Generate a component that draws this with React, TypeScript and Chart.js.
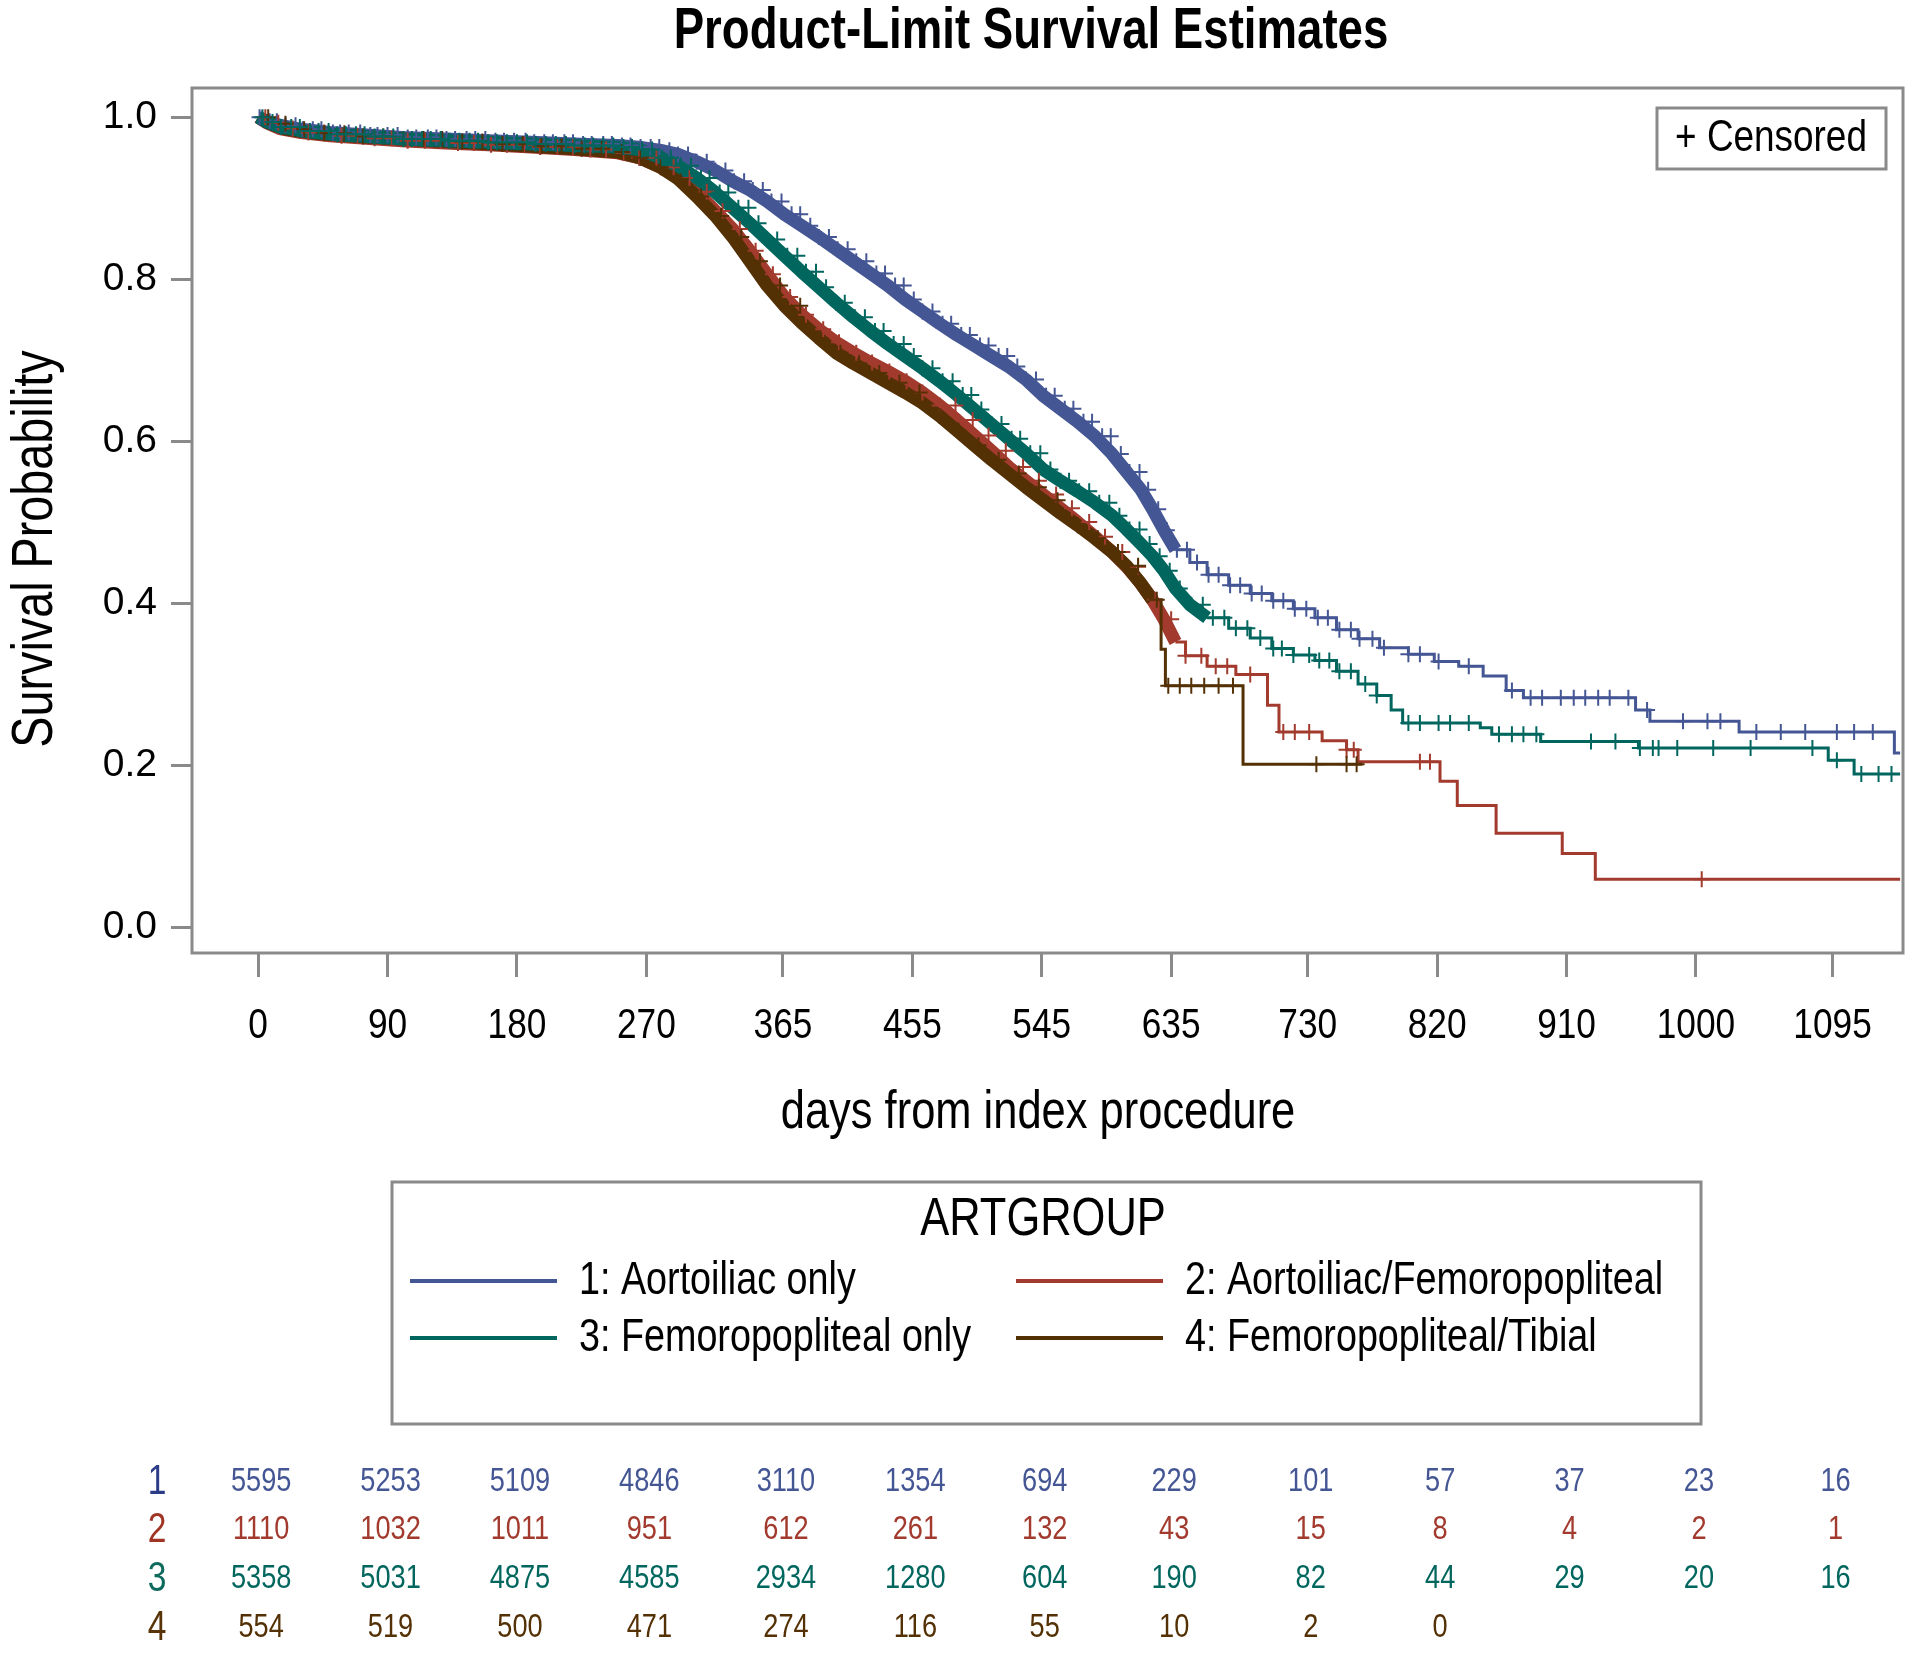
import React, { useEffect, useRef } from "react";
import { Chart, registerables } from "chart.js";

Chart.register(...registerables);

const X_TICKS = [0, 90, 180, 270, 365, 455, 545, 635, 730, 820, 910, 1000, 1095];
const Y_TICKS = [0, 0.2, 0.4, 0.6, 0.8, 1.0];

const GROUP_LABELS = [
  "1: Aortoiliac only",
  "2: Aortoiliac/Femoropopliteal",
  "3: Femoropopliteal only",
  "4: Femoropopliteal/Tibial",
];
const GROUP_IDS = ["1", "2", "3", "4"];
const GROUP_COLORS = ["#445694", "#A23A2E", "#01665E", "#543005"];
const ID_COLORS = ["#2c3c88", "#a03424", "#0e6a5c", "#583408"];
// day up to which events/censoring are so dense that the curve reads as a thick smooth band
const DENSE_END = [638, 638, 660, 622];
// drawing order (lower = on top)
const LAYER = [4, 3, 1, 2];

// Group 1: Aortoiliac only
const T1 = [0, 6, 15, 30, 50, 75, 100, 130, 160, 190, 220, 250, 265, 280, 292, 305, 318, 330, 342, 354, 366, 378, 390, 402, 414, 426, 438, 450, 462, 474, 486, 498, 510, 522, 534, 546, 558, 570, 582, 594, 604, 614, 622, 630, 638, 648, 660, 675, 690, 705, 720, 735, 750, 765, 780, 800, 818, 835, 852, 868, 880, 958, 968, 1030, 1138, 1142];
const S1 = [1.0, 0.995, 0.99, 0.985, 0.981, 0.978, 0.975, 0.973, 0.971, 0.969, 0.967, 0.965, 0.963, 0.959, 0.954, 0.945, 0.934, 0.921, 0.91, 0.896, 0.88, 0.866, 0.852, 0.837, 0.822, 0.807, 0.792, 0.775, 0.76, 0.745, 0.731, 0.718, 0.705, 0.692, 0.676, 0.656, 0.64, 0.624, 0.606, 0.584, 0.562, 0.54, 0.516, 0.49, 0.466, 0.45, 0.435, 0.422, 0.412, 0.403, 0.393, 0.382, 0.367, 0.356, 0.345, 0.337, 0.328, 0.322, 0.31, 0.292, 0.283, 0.268, 0.254, 0.241, 0.215, 0.215];
const C1 = [1, 8, 13, 19, 26, 31, 38, 44, 52, 57, 63, 71, 78, 83, 90, 97, 104, 110, 118, 124, 131, 137, 145, 151, 158, 165, 171, 178, 186, 192, 199, 205, 213, 219, 226, 232, 240, 246, 253, 259, 266, 273, 279, 286, 292, 299, 305, 312, 318, 325, 331, 338, 344, 351, 357, 364, 371, 377, 384, 390, 397, 403, 410, 416, 423, 430, 436, 443, 449, 456, 462, 469, 476, 482, 489, 495, 502, 508, 515, 521, 528, 534, 541, 548, 554, 561, 567, 574, 580, 587, 593, 600, 606, 613, 619, 626, 632, 639, 646, 653, 661, 668, 676, 683, 691, 698, 706, 713, 721, 729, 737, 744, 752, 760, 766, 775, 783, 800, 808, 821, 842, 872, 885, 893, 906, 915, 923, 932, 940, 953, 966, 991, 1008, 1017, 1042, 1059, 1076, 1098, 1110, 1123];

// Group 2: Aortoiliac/Femoropopliteal
const T2 = [0, 6, 15, 30, 50, 75, 100, 130, 160, 190, 220, 250, 265, 280, 292, 305, 318, 330, 342, 354, 366, 378, 390, 402, 414, 426, 438, 450, 462, 474, 486, 498, 510, 522, 534, 546, 558, 570, 582, 594, 604, 614, 622, 630, 638, 645, 660, 680, 702, 710, 740, 757, 765, 822, 834, 861, 907, 930, 1142];
const S2 = [1.0, 0.993, 0.986, 0.981, 0.977, 0.974, 0.971, 0.968, 0.966, 0.963, 0.96, 0.956, 0.95, 0.938, 0.925, 0.908, 0.884, 0.862, 0.835, 0.806, 0.778, 0.756, 0.738, 0.722, 0.709, 0.697, 0.686, 0.674, 0.66, 0.644, 0.626, 0.607, 0.588, 0.568, 0.551, 0.534, 0.517, 0.5, 0.482, 0.463, 0.445, 0.424, 0.404, 0.38, 0.352, 0.335, 0.322, 0.312, 0.274, 0.241, 0.23, 0.219, 0.204, 0.18, 0.15, 0.116, 0.091, 0.059, 0.059];
const C2 = [5, 14, 24, 35, 46, 58, 69, 81, 93, 104, 116, 127, 139, 150, 162, 173, 185, 196, 208, 219, 231, 242, 254, 265, 277, 289, 300, 312, 323, 335, 346, 358, 370, 381, 393, 404, 416, 427, 439, 451, 462, 474, 485, 497, 508, 520, 532, 543, 555, 566, 578, 589, 601, 612, 624, 635, 645, 656, 666, 674, 690, 713, 721, 731, 757, 762, 808, 815, 1004];

// Group 3: Femoropopliteal only
const T3 = [0, 6, 15, 30, 50, 75, 100, 130, 160, 190, 220, 250, 265, 280, 292, 305, 318, 330, 342, 354, 366, 378, 390, 402, 414, 426, 438, 450, 462, 474, 486, 498, 510, 522, 534, 546, 558, 570, 582, 594, 604, 614, 622, 630, 638, 648, 660, 675, 690, 705, 720, 735, 750, 765, 778, 788, 796, 850, 858, 892, 960, 1092, 1110, 1142];
const S3 = [1.0, 0.994, 0.988, 0.983, 0.979, 0.976, 0.973, 0.971, 0.969, 0.967, 0.965, 0.963, 0.96, 0.95, 0.94, 0.925, 0.907, 0.888, 0.869, 0.849, 0.829, 0.809, 0.79, 0.771, 0.753, 0.736, 0.72, 0.705, 0.69, 0.674, 0.657, 0.639, 0.621, 0.603, 0.585, 0.565, 0.551, 0.538, 0.524, 0.508, 0.491, 0.473, 0.458, 0.44, 0.418, 0.398, 0.382, 0.369, 0.357, 0.344, 0.336, 0.329, 0.316, 0.3, 0.286, 0.268, 0.252, 0.246, 0.238, 0.229, 0.221, 0.206, 0.189, 0.189];
const C3 = [3, 10, 16, 23, 29, 36, 42, 49, 55, 61, 68, 74, 81, 87, 94, 101, 107, 114, 120, 127, 133, 140, 147, 153, 160, 166, 173, 180, 187, 193, 200, 207, 214, 220, 227, 233, 240, 247, 254, 260, 267, 274, 281, 287, 294, 301, 308, 314, 321, 327, 334, 341, 348, 354, 361, 368, 375, 381, 388, 395, 402, 408, 415, 422, 429, 435, 442, 449, 456, 462, 469, 476, 483, 490, 496, 503, 510, 517, 524, 530, 537, 544, 551, 558, 564, 571, 578, 585, 592, 599, 606, 613, 620, 627, 634, 641, 649, 657, 664, 672, 680, 688, 697, 706, 712, 720, 731, 738, 745, 752, 760, 770, 778, 800, 808, 821, 829, 842, 863, 872, 880, 889, 927, 944, 961, 970, 974, 987, 1012, 1038, 1081, 1098, 1115, 1127, 1136];

// Group 4: Femoropopliteal/Tibial
const T4 = [0, 8, 20, 40, 70, 100, 130, 160, 190, 220, 250, 265, 280, 292, 305, 318, 330, 342, 354, 366, 378, 390, 402, 414, 426, 438, 450, 462, 474, 486, 498, 510, 522, 534, 546, 558, 570, 582, 594, 604, 614, 622, 628, 631, 685, 768];
const S4 = [1.0, 0.992, 0.985, 0.98, 0.976, 0.973, 0.97, 0.967, 0.964, 0.961, 0.957, 0.95, 0.938, 0.924, 0.902, 0.878, 0.852, 0.822, 0.792, 0.767, 0.746, 0.727, 0.709, 0.696, 0.684, 0.672, 0.66, 0.647, 0.631, 0.613, 0.595, 0.577, 0.56, 0.543, 0.527, 0.511, 0.496, 0.48, 0.463, 0.446, 0.424, 0.404, 0.343, 0.298, 0.201, 0.201];
const C4 = [7, 19, 32, 46, 60, 73, 87, 101, 115, 128, 142, 156, 170, 184, 197, 211, 225, 239, 253, 266, 280, 294, 308, 322, 336, 349, 363, 377, 391, 405, 418, 432, 446, 460, 474, 487, 501, 515, 529, 543, 556, 570, 584, 598, 612, 625, 633, 641, 649, 658, 668, 678, 736, 757, 764];

// Number at risk at each x tick
const RISK1 = [5595, 5253, 5109, 4846, 3110, 1354, 694, 229, 101, 57, 37, 23, 16];
const RISK2 = [1110, 1032, 1011, 951, 612, 261, 132, 43, 15, 8, 4, 2, 1];
const RISK3 = [5358, 5031, 4875, 4585, 2934, 1280, 604, 190, 82, 44, 29, 20, 16];
const RISK4 = [554, 519, 500, 471, 274, 116, 55, 10, 2, 0];

const TITLE = "Product-Limit Survival Estimates";
const X_TITLE = "days from index procedure";
const Y_TITLE = "Survival Probability";
const LEGEND_TITLE = "ARTGROUP";
const CENSOR_LABEL = "+ Censored";

const SANS = "'Liberation Sans', Arial, sans-serif";
const NARROW_X = 0.82; // horizontal squeeze to emulate a narrow face
const FRAME = "#8a8a8a";

function survAt(T: number[], S: number[], t: number): number {
  let s = S[0];
  for (let i = 0; i < T.length; i++) if (T[i] <= t) s = S[i];
  return s;
}

function narrowText(
  ctx: CanvasRenderingContext2D,
  text: string,
  x: number,
  y: number,
  font: string,
  color: string,
  align: CanvasTextAlign = "center",
  sx: number = NARROW_X,
  rot: number = 0
) {
  ctx.save();
  ctx.translate(x, y);
  if (rot) ctx.rotate(rot);
  ctx.scale(sx, 1);
  ctx.font = font;
  ctx.fillStyle = color;
  ctx.textAlign = align;
  ctx.textBaseline = "middle";
  ctx.fillText(text, 0, 0);
  ctx.restore();
}

const GROUPS = [
  { T: T1, S: S1, C: C1, R: RISK1 },
  { T: T2, S: S2, C: C2, R: RISK2 },
  { T: T3, S: S3, C: C3, R: RISK3 },
  { T: T4, S: S4, C: C4, R: RISK4 },
];

const decorPlugin = {
  id: "decor",
  beforeDatasetsDraw(chart: any) {
    const { ctx, chartArea } = chart;
    ctx.save();
    ctx.strokeStyle = FRAME;
    ctx.lineWidth = 3;
    ctx.strokeRect(chartArea.left, chartArea.top, chartArea.right - chartArea.left, chartArea.bottom - chartArea.top);
    ctx.restore();
  },
  afterDraw(chart: any) {
    const { ctx } = chart;
    const xs = chart.scales.x;
    ctx.save();
    // title
    narrowText(ctx, TITLE, 1031, 32, `bold 57px ${SANS}`, "#000", "center", 0.8);

    // x tick labels and axis titles
    X_TICKS.forEach((v) => {
      narrowText(ctx, String(v), xs.getPixelForValue(v), 1026, `43px ${SANS}`, "#000");
    });
    narrowText(ctx, X_TITLE, 1038, 1113, `53px ${SANS}`, "#000");
    narrowText(ctx, Y_TITLE, 36, 549, `57px ${SANS}`, "#000", "center", NARROW_X, -Math.PI / 2);

    // censored box
    ctx.fillStyle = "#fff";
    ctx.fillRect(1657, 108, 229, 61);
    ctx.strokeStyle = FRAME;
    ctx.lineWidth = 3;
    ctx.strokeRect(1657, 108, 229, 61);
    narrowText(ctx, CENSOR_LABEL, 1771, 139, `45px ${SANS}`, "#000");

    // legend box
    ctx.strokeStyle = FRAME;
    ctx.lineWidth = 3;
    ctx.strokeRect(392, 1182, 1309, 242);
    narrowText(ctx, LEGEND_TITLE, 1043, 1220, `53px ${SANS}`, "#000");
    const cols = [410, 1016];
    const rows = [1281, 1338];
    GROUP_LABELS.forEach((lab, i) => {
      const x = cols[i % 2];
      const y = rows[Math.floor(i / 2)];
      ctx.strokeStyle = GROUP_COLORS[i];
      ctx.lineWidth = 4;
      ctx.beginPath();
      ctx.moveTo(x, y);
      ctx.lineTo(x + 147, y);
      ctx.stroke();
      narrowText(ctx, lab, x + 169, y, `46px ${SANS}`, "#000", "left");
    });

    // at-risk table
    const riskRows = [1482, 1530, 1579, 1628];
    GROUPS.forEach((g, i) => {
      const y = riskRows[i];
      narrowText(ctx, GROUP_IDS[i], 157, y, `42px ${SANS}`, ID_COLORS[i], "center", 0.8);
      g.R.forEach((v, j) => {
        narrowText(ctx, String(v), xs.getPixelForValue(X_TICKS[j]) + 3, y, `34px ${SANS}`, GROUP_COLORS[i], "center", 0.8);
      });
    });
    ctx.restore();
  },
};

export default function App() {
  const ref = useRef<HTMLCanvasElement>(null);
  useEffect(() => {
    const denseSets = GROUPS.map((g, i) => ({
      type: "line" as const,
      label: GROUP_LABELS[i],
      data: g.T.map((t, k) => ({ x: t, y: g.S[k] })).filter((p) => p.x <= DENSE_END[i]),
      borderColor: GROUP_COLORS[i],
      backgroundColor: GROUP_COLORS[i],
      borderWidth: 13,
      borderJoinStyle: "round" as const,
      borderCapStyle: "butt" as const,
      pointRadius: 0,
      fill: false,
      order: 20 + LAYER[i],
    }));
    const tailSets = GROUPS.map((g, i) => ({
      type: "line" as const,
      label: GROUP_LABELS[i] + " tail",
      data: g.T.map((t, k) => ({ x: t, y: g.S[k] })).filter((p) => p.x >= DENSE_END[i]),
      borderColor: GROUP_COLORS[i],
      backgroundColor: GROUP_COLORS[i],
      borderWidth: 3,
      stepped: "before" as const,
      pointRadius: 0,
      fill: false,
      order: 10 + LAYER[i],
    }));
    const censorSets = GROUPS.map((g, i) => ({
      type: "line" as const,
      label: GROUP_LABELS[i] + " censored",
      data: g.C.map((t) => ({ x: t, y: survAt(g.T, g.S, t) })),
      showLine: false,
      borderColor: GROUP_COLORS[i],
      backgroundColor: GROUP_COLORS[i],
      pointStyle: "cross" as const,
      pointRadius: 8,
      pointBorderWidth: 2,
      pointBorderColor: GROUP_COLORS[i],
      order: LAYER[i],
    }));
    const chart = new Chart(ref.current as HTMLCanvasElement, {
      type: "line",
      data: { datasets: [...denseSets, ...tailSets, ...censorSets] as any },
      options: {
        responsive: false,
        animation: false,
        devicePixelRatio: 1,
        events: [],
        layout: { autoPadding: false, padding: { top: 88, left: 0, right: 17, bottom: 511 } },
        plugins: { legend: { display: false }, tooltip: { enabled: false }, title: { display: false } },
        scales: {
          x: {
            type: "linear",
            min: -46,
            max: 1144,
            afterBuildTicks: (s: any) => {
              s.ticks = X_TICKS.map((v) => ({ value: v }));
            },
            afterFit: (s: any) => {
              s.height = 190;
            },
            grid: { display: true, drawOnChartArea: false, drawTicks: true, tickLength: 24, tickColor: FRAME, tickWidth: 3 },
            border: { display: false },
            ticks: { display: false, autoSkip: false, maxRotation: 0 },
            title: { display: false },
          },
          y: {
            type: "linear",
            min: -0.032,
            max: 1.036,
            afterBuildTicks: (s: any) => {
              s.ticks = Y_TICKS.map((v) => ({ value: v }));
            },
            afterFit: (s: any) => {
              s.width = 192;
            },
            grid: { display: true, drawOnChartArea: false, drawTicks: true, tickLength: 21, tickColor: FRAME, tickWidth: 3 },
            border: { display: false },
            ticks: {
              padding: 14,
              color: "#000",
              font: { family: SANS, size: 39 },
              callback: (v: any) => Number(v).toFixed(1),
            },
            title: { display: false },
          },
        },
      },
      plugins: [decorPlugin],
    } as any);
    return () => chart.destroy();
  }, []);
  return (
    <div style={{ position: "absolute", left: 0, top: 0, width: 1920, height: 1654, background: "#fff" }}>
      <canvas ref={ref} width={1920} height={1654} style={{ display: "block", width: 1920, height: 1654 }} />
    </div>
  );
}
